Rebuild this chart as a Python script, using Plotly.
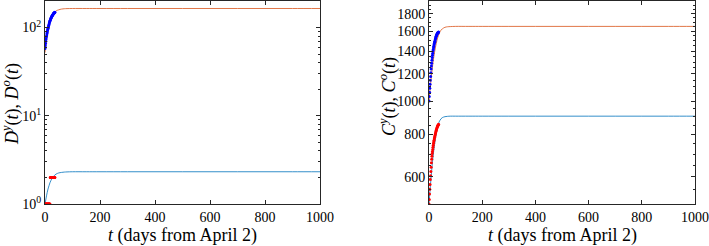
import plotly.graph_objects as go
import numpy as np

# model time grid
t_model = [0, 2, 4, 6, 8, 10, 12, 15, 18, 21, 25, 30, 35, 40, 45, 50, 60, 70, 80, 100,
           150, 200, 300, 400, 500, 600, 700, 800, 900, 1000]
Do_model = [52, 60, 68, 76, 84, 91, 98, 108, 117, 125, 134, 143, 149, 154, 157, 159, 162, 163.5, 164, 164.5,
            164.5, 164.5, 164.5, 164.5, 164.5, 164.5, 164.5, 164.5, 164.5, 164.5]
Dy_model = [1.0, 1.08, 1.17, 1.26, 1.35, 1.44, 1.52, 1.63, 1.74, 1.83, 1.94, 2.04, 2.12, 2.18, 2.22, 2.25, 2.28, 2.30, 2.31, 2.32,
            2.32, 2.32, 2.32, 2.32, 2.32, 2.32, 2.32, 2.32, 2.32, 2.32]
Co_model = [1000, 1040, 1080, 1120, 1160, 1200, 1240, 1295, 1345, 1390, 1445, 1505, 1550, 1585, 1610, 1625, 1642, 1648, 1650, 1652,
            1652, 1652, 1652, 1652, 1652, 1652, 1652, 1652, 1652, 1652]
Cy_model = [500, 525, 550, 575, 600, 625, 650, 685, 718, 748, 785, 825, 855, 875, 887, 894, 900, 902, 903, 903,
            903, 903, 903, 903, 903, 903, 903, 903, 903, 903]

# observed data (days from April 2)
days = list(range(37))
Do_data = [58, 62, 66, 70, 74, 78, 81, 85, 88, 92, 95, 98, 101, 104, 107, 110, 113, 116, 119, 121,
           124, 126, 128, 130, 132, 134, 136, 138, 139, 141, 142, 144, 145, 146, 147, 148, 149]
Dy_data = [1] * 19 + [2] * 18
Co_data = [1000, 1030, 1060, 1090, 1120, 1150, 1180, 1210, 1240, 1265, 1290, 1315, 1340, 1360, 1380, 1400,
           1415, 1430, 1445, 1460, 1472, 1484, 1496, 1508, 1518, 1528, 1538, 1546, 1554, 1562, 1568, 1574,
           1578, 1582, 1585, 1588, 1590]
Cy_data = [500, 515, 535, 552, 570, 590, 605, 622, 640, 660, 676, 690, 702, 712, 722, 732, 742, 752, 760,
           768, 776, 784, 790, 796, 802, 808, 814, 820, 825, 830, 835, 840, 843, 846, 849, 852, 855]

x_ticks = [0, 200, 400, 600, 800, 1000]
left_yticks = [1, 10, 100]
left_yticktext = ["10<sup>0</sup>", "10<sup>1</sup>", "10<sup>2</sup>"]
right_yticks = [600, 800, 1000, 1200, 1400, 1600, 1800]

ORANGE = "#D95319"
BLUE = "#0072BD"
W, H = 709, 246
FONT = "Liberation Serif"
AX = "#262626"
MS = 3

fig = go.Figure()
fig.add_trace(go.Scatter(x=t_model, y=Do_model, mode="lines", line=dict(color=ORANGE, width=0.8, shape="spline"),
                         xaxis="x", yaxis="y", showlegend=False))
fig.add_trace(go.Scatter(x=t_model, y=Dy_model, mode="lines", line=dict(color=BLUE, width=0.8, shape="spline"),
                         xaxis="x", yaxis="y", showlegend=False))
fig.add_trace(go.Scatter(x=days, y=Do_data, mode="markers", marker=dict(color="#0000FF", size=MS),
                         xaxis="x", yaxis="y", showlegend=False))
fig.add_trace(go.Scatter(x=days, y=Dy_data, mode="markers", marker=dict(color="#FF0000", size=MS),
                         xaxis="x", yaxis="y", showlegend=False))

fig.add_trace(go.Scatter(x=t_model, y=Co_model, mode="lines", line=dict(color=ORANGE, width=0.8, shape="spline"),
                         xaxis="x2", yaxis="y2", showlegend=False))
fig.add_trace(go.Scatter(x=t_model, y=Cy_model, mode="lines", line=dict(color=BLUE, width=0.8, shape="spline"),
                         xaxis="x2", yaxis="y2", showlegend=False))
fig.add_trace(go.Scatter(x=days, y=Co_data, mode="markers", marker=dict(color="#0000FF", size=MS),
                         xaxis="x2", yaxis="y2", showlegend=False))
fig.add_trace(go.Scatter(x=days, y=Cy_data, mode="markers", marker=dict(color="#FF0000", size=MS),
                         xaxis="x2", yaxis="y2", showlegend=False))

left_minor = [m * 10 ** d for d in range(0, 3) for m in range(2, 10) if m * 10 ** d < 200]
right_minor = list(range(500, 2000, 50))

ydom = [1 - 204 / H, 1 - 1 / H]
common_x = dict(range=[0, 1000], tickvals=x_ticks, ticks="inside", ticklen=4, tickcolor=AX,
                showline=True, linecolor=AX, linewidth=1, mirror="allticks", showgrid=False, zeroline=False,
                automargin=False, tickfont=dict(family=FONT, size=14, color="black"))
common_y = dict(type="log", ticks="inside", ticklen=4, tickcolor=AX, showline=True, linecolor=AX, linewidth=1,
                mirror="allticks", showgrid=False, zeroline=False, automargin=False,
                tickfont=dict(family=FONT, size=14, color="black"))

fig.update_layout(
    width=W, height=H, margin=dict(l=0, r=0, t=0, b=0, autoexpand=False),
    paper_bgcolor="white", plot_bgcolor="white",
    xaxis=dict(domain=[45 / W, 320 / W], anchor="y", **common_x),
    yaxis=dict(domain=ydom, anchor="x", range=[0, np.log10(200)], tickvals=left_yticks, ticktext=left_yticktext,
               minor=dict(tickvals=left_minor, ticks="inside", ticklen=2, tickcolor=AX), **common_y),
    xaxis2=dict(domain=[429 / W, 695 / W], anchor="y2", **common_x),
    yaxis2=dict(domain=ydom, anchor="x2", range=[np.log10(500), np.log10(1960)], tickvals=right_yticks,
                minor=dict(tickvals=right_minor, ticks="inside", ticklen=2, tickcolor=AX), **common_y),
)

title_font = dict(family=FONT, size=18, color="black")
ann = dict(xref="paper", yref="paper", showarrow=False, xanchor="center", yanchor="middle", font=title_font)
fig.add_annotation(x=182 / W, y=1 - 235 / H, text="<i>t</i> (days from April 2)", **ann)
fig.add_annotation(x=562 / W, y=1 - 235 / H, text="<i>t</i> (days from April 2)", **ann)
fig.add_annotation(x=11 / W, y=1 - 104 / H, textangle=-90,
                   text="<i>D</i><sup><i>y</i></sup>(<i>t</i>), <i>D</i><sup><i>o</i></sup>(<i>t</i>)", **ann)
fig.add_annotation(x=388 / W, y=1 - 97 / H, textangle=-90,
                   text="<i>C</i><sup><i>y</i></sup>(<i>t</i>), <i>C</i><sup><i>o</i></sup>(<i>t</i>)", **ann)

fig.write_html("out.html", config={"displayModeBar": False},
               post_script="document.body.style.margin='0';document.body.style.overflow='hidden';")
